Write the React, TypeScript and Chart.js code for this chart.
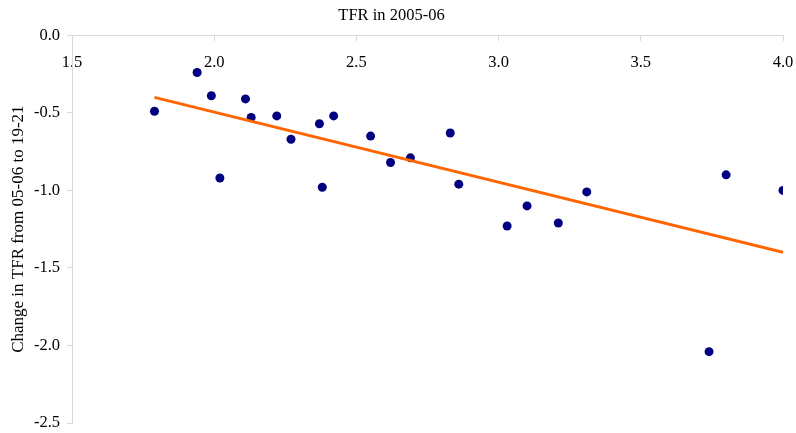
import React, { useEffect, useRef } from "react";
import { Chart, registerables } from "chart.js";

Chart.register(...registerables);

const tfr2005 = [1.79, 1.94, 1.99, 2.02, 2.11, 2.13, 2.22, 2.27, 2.37, 2.38, 2.42, 2.55, 2.62, 2.69, 2.83, 2.86, 3.03, 3.10, 3.21, 3.31, 3.74, 3.80, 4.00];
const tfrChange = [-0.49, -0.24, -0.39, -0.92, -0.41, -0.53, -0.52, -0.67, -0.57, -0.98, -0.52, -0.65, -0.82, -0.79, -0.63, -0.96, -1.23, -1.10, -1.21, -1.01, -2.04, -0.90, -1.00];
const trendX = [1.79, 4.0];
const trendY = [-0.40, -1.40];
const xTicks = [1.5, 2.0, 2.5, 3.0, 3.5, 4.0];
const yTicks = [0.0, -0.5, -1.0, -1.5, -2.0, -2.5];

const FONT = "'Liberation Serif', 'Times New Roman', serif";

const zeroPad = (s: any) => {
  s.paddingLeft = 0;
  s.paddingRight = 0;
  s.paddingTop = 0;
  s.paddingBottom = 0;
};

export default function App() {
  const ref = useRef<HTMLCanvasElement | null>(null);

  useEffect(() => {
    if (!ref.current) return;
    const points = tfr2005.map((x, i) => ({ x, y: tfrChange[i] }));
    const trend = trendX.map((x, i) => ({ x, y: trendY[i] }));
    const chart = new Chart(ref.current, {
      type: "scatter",
      data: {
        datasets: [
          {
            type: "line",
            data: trend,
            borderColor: "#FF6600",
            borderWidth: 3,
            pointRadius: 0,
            showLine: true,
            fill: false,
            order: 0,
          } as any,
          {
            data: points,
            backgroundColor: "#000080",
            borderColor: "#000080",
            borderWidth: 0,
            pointRadius: 4.5,
            order: 1,
          },
        ],
      },
      options: {
        animation: false,
        responsive: true,
        maintainAspectRatio: false,
        layout: { padding: { left: 0, right: 13, top: 0, bottom: 10 } },
        plugins: {
          legend: { display: false },
          tooltip: { enabled: false },
          title: {
            display: true,
            text: "TFR in 2005-06",
            color: "#000",
            font: { family: FONT, size: 16.5, weight: "normal" },
            padding: { top: 6, bottom: 9.5 },
          },
        },
        scales: {
          x: {
            type: "linear",
            position: { y: 0 } as any,
            min: 1.5,
            max: 4.0,
            afterBuildTicks: (s: any) => {
              s.ticks = xTicks.map((v) => ({ value: v }));
            },
            afterFit: zeroPad,
            ticks: {
              color: "#000",
              font: { family: FONT, size: 16.5 },
              padding: 12,
              maxRotation: 0,
              autoSkip: false,
              callback: (v: any) => Number(v).toFixed(1),
            },
            grid: {
              drawOnChartArea: false,
              drawTicks: true,
              tickLength: 5,
              color: "#d9d9d9",
            },
            border: { color: "#d9d9d9" },
          },
          y: {
            type: "linear",
            position: "left",
            min: -2.5,
            max: 0,
            afterBuildTicks: (s: any) => {
              s.ticks = yTicks.map((v) => ({ value: v }));
            },
            afterFit: (s: any) => {
              s.width = 72;
              zeroPad(s);
            },
            ticks: {
              color: "#000",
              font: { family: FONT, size: 16.5 },
              padding: 7,
              autoSkip: false,
              callback: (v: any) => Number(v).toFixed(1),
            },
            grid: {
              drawOnChartArea: false,
              drawTicks: true,
              tickLength: 5,
              color: "#d9d9d9",
            },
            border: { color: "#d9d9d9" },
            title: {
              display: true,
              text: "Change in TFR from 05-06 to 19-21",
              color: "#000",
              font: { family: FONT, size: 17, weight: "normal" },
              padding: { top: 8, bottom: 0 },
            },
          },
        },
      },
    });
    return () => chart.destroy();
  }, []);

  return (
    <div style={{ position: "fixed", left: 0, top: 0, width: 796, height: 433 }}>
      <canvas ref={ref} />
    </div>
  );
}
